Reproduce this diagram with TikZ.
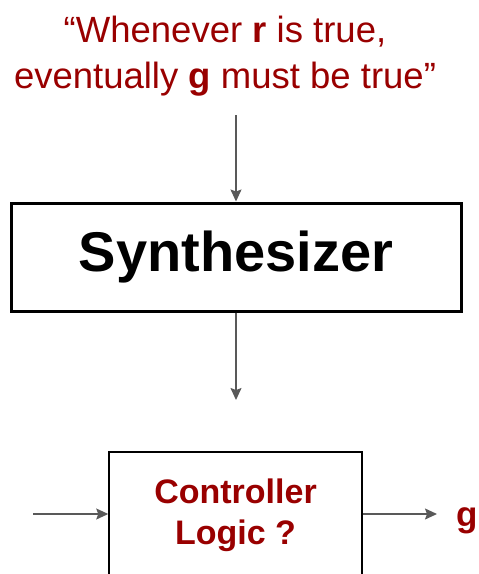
\documentclass[tikz,border=0pt]{standalone}
\usepackage{fontspec}
\setmainfont{Liberation Sans}
\usepackage{xcolor}
\usetikzlibrary{arrows.meta, positioning, calc}

\definecolor{specred}{RGB}{153,0,0}
\definecolor{wiregray}{RGB}{89,89,89}

\begin{document}
\begin{tikzpicture}[x=1pt, y=-1pt,
    wire/.style={draw=wiregray, line width=1.3pt, -{Stealth[length=12pt, width=11pt, inset=2pt]}},
    blockbox/.style={draw=black, fill=white, inner sep=0pt}]
    \useasboundingbox (0, 0) rectangle (479, 574);

    % specification and the two blocks
    \node[align=center, text=specred, font=\fontsize{36.5}{46}\selectfont] (spec) at (225, 56)
        {``Whenever \textbf{r} is true,\\eventually \textbf{g} must be true''};
    \node[blockbox, line width=3pt, minimum width=450pt, minimum height=108pt,
        font=\fontsize{56}{60}\selectfont\bfseries] (synth) at (236, 257) {Synthesizer};
    \node[blockbox, line width=1.5pt, minimum width=253pt, minimum height=126pt, align=center,
        text=specred, font=\fontsize{34}{41}\selectfont\bfseries] (ctrl) at (235.5, 515) {Controller\\Logic ?};
    \node[text=specred, font=\fontsize{35}{40}\selectfont\bfseries, anchor=base west, inner sep=0pt] (gout) at (456, 526) {g};

    \coordinate (specin) at (236, 115);
    \coordinate (synthout) at (236, 400);
    \coordinate (envin) at (33, 514);
    \coordinate (gin) at (437, 514);

    \draw[wire] (specin) -- (synth.north);
    \draw[wire] (synth.south) -- (synthout);
    \draw[wire] (envin) -- (envin -| ctrl.west);
    \draw[wire] (gin -| ctrl.east) -- (gin);
\end{tikzpicture}
\end{document}
